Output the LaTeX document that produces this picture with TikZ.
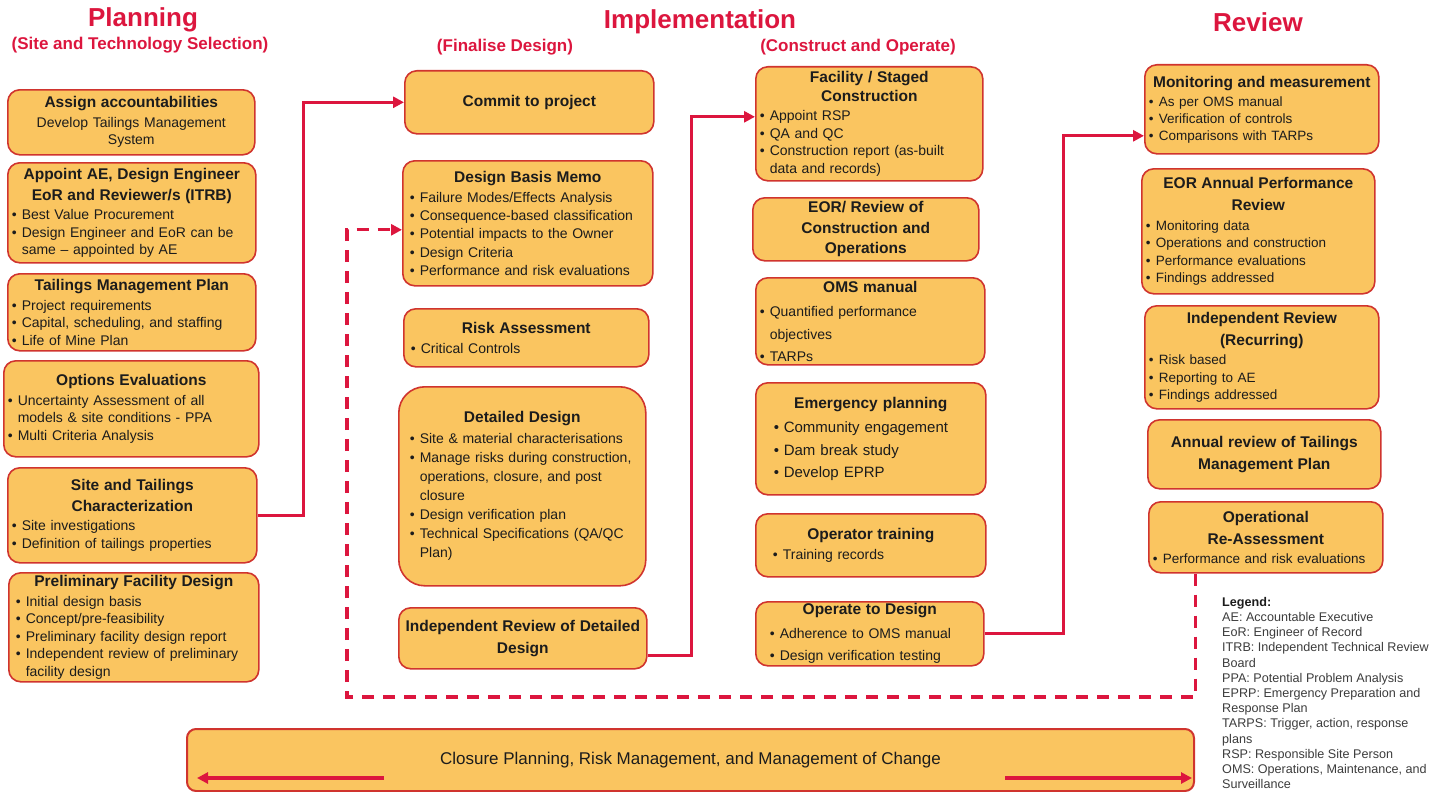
\documentclass[tikz,border=0pt]{standalone}
\usepackage{fontspec}
\setmainfont{Liberation Sans}
\usetikzlibrary{arrows.meta}

\definecolor{boxfill}{RGB}{250,197,96}
\definecolor{boxline}{RGB}{208,52,46}
\definecolor{accent}{RGB}{220,22,62}
\definecolor{ink}{RGB}{28,28,28}
\definecolor{legendink}{RGB}{60,60,60}

% bullet item; \bind shifts the bullet right
\newlength\bind
\newcommand\itm[1]{\par\noindent\hspace*{\bind}\makebox[10pt][l]{\textbullet}#1}
% continuation line of a bullet, aligned under its text
\newcommand\nl{\newline\hspace*{\dimexpr\bind+10pt\relax}}
% bold centred heading, optional baseline skip
\newcommand\hd[2][21pt]{{\centering\fontsize{15.5}{#1}\selectfont\bfseries #2\par}\vskip2pt}

\tikzset{
  box/.style={draw=boxline, fill=boxfill, line width=1.6pt, rounded corners=12pt,
    anchor=north west, inner xsep=4pt, inner ysep=0pt, align=left, text=ink,
    font=\fontsize{14}{17.5}\selectfont},
  phasetitle/.style={text=accent, font=\fontsize{26}{30}\selectfont\bfseries},
  phasesub/.style={text=accent, font=\fontsize{17}{20}\selectfont\bfseries},
  conn/.style={draw=accent, line width=3.3pt, -{Triangle[length=11pt,width=11pt]}},
  dconn/.style={conn, dash pattern=on 12pt off 9pt},
}

\begin{document}
\begin{tikzpicture}[x=1pt, y=-1pt]
\useasboundingbox (0,0) rectangle (1437,792);

% phase titles
\node[phasetitle] (tplan) at (143,20) {Planning};
\node[phasesub] (tplansub) at (140,45) {(Site and Technology Selection)};
\node[phasetitle] (timpl) at (700,22) {Implementation};
\node[phasesub] (tfin) at (505,47) {(Finalise Design)};
\node[phasesub] (tcon) at (858,47) {(Construct and Operate)};
\node[phasetitle] (trev) at (1258,22) {Review};

% planning column
\node[box, minimum width=247pt, minimum height=65pt, text width=239pt] (assign) at (7,89)
  {\hd{Assign accountabilities}{\centering Develop Tailings Management\\System\par}};
\node[box, minimum width=248pt, minimum height=100pt, text width=240pt] (appoint) at (7,162)
  {\hd{Appoint AE, Design Engineer\\EoR and Reviewer/s (ITRB)}
   \itm{Best Value Procurement}
   \itm{Design Engineer and EoR can be\nl same – appointed by AE}};
\node[box, minimum width=248pt, minimum height=77pt, text width=240pt] (tmp) at (7,273)
  {\hd{Tailings Management Plan}
   \itm{Project requirements}
   \itm{Capital, scheduling, and staffing}
   \itm{Life of Mine Plan}};
\node[box, minimum width=255pt, minimum height=96pt, text width=247pt] (options) at (3,360)
  {\hd{Options Evaluations}
   \itm{Uncertainty Assessment of all\nl models \& site conditions - PPA}
   \itm{Multi Criteria Analysis}};
\node[box, minimum width=249pt, minimum height=95pt, text width=241pt] (site) at (7,467)
  {\hd{Site and Tailings\\Characterization}
   \itm{Site investigations}
   \itm{Definition of tailings properties}};
\node[box, minimum width=250pt, minimum height=109pt, text width=242pt] (prelim) at (8,572)
  {\setlength\bind{3pt}\hd{Preliminary Facility Design}
   \itm{Initial design basis}
   \itm{Concept/pre-feasibility}
   \itm{Preliminary facility design report}
   \itm{Independent review of preliminary\nl facility design}};

% finalise design column
\node[box, minimum width=249pt, minimum height=63pt, text width=241pt] (commit) at (404,70)
  {\hd{Commit to project}};
\node[box, minimum width=250pt, minimum height=125pt, text width=242pt,
      font=\fontsize{14}{18.3}\selectfont] (dbm) at (402,160)
  {\setlength\bind{3pt}\hd{Design Basis Memo}
   \itm{Failure Modes/Effects Analysis}
   \itm{Consequence-based classification}
   \itm{Potential impacts to the Owner}
   \itm{Design Criteria}
   \itm{Performance and risk evaluations}};
\node[box, minimum width=245pt, minimum height=58pt, text width=237pt] (risk) at (403,308)
  {\setlength\bind{3pt}\hd{Risk Assessment}
   \itm{Critical Controls}};
\node[box, minimum width=247pt, minimum height=199pt, text width=239pt, rounded corners=26pt,
      font=\fontsize{14}{19}\selectfont] (detailed) at (398,386)
  {\setlength\bind{7pt}\hd{Detailed Design}
   \itm{Site \& material characterisations}
   \itm{Manage risks during construction,\nl operations, closure, and post\nl closure}
   \itm{Design verification plan}
   \itm{Technical Specifications (QA/QC\nl Plan)}};
\node[box, minimum width=248pt, minimum height=61pt, text width=240pt] (irdd) at (398,607)
  {\hd[22pt]{Independent Review of Detailed\\Design}};

% construct and operate column
\node[box, minimum width=227pt, minimum height=114pt, text width=219pt] (facility) at (755,66)
  {\hd[19pt]{Facility / Staged\\Construction}
   \itm{Appoint RSP}
   \itm{QA and QC}
   \itm{Construction report (as-built\nl data and records)}};
\node[box, minimum width=226pt, minimum height=63pt, text width=218pt] (eor) at (752,197)
  {\hd[20.5pt]{EOR/ Review of\\Construction and\\Operations}};
\node[box, minimum width=229pt, minimum height=87pt, text width=221pt,
      font=\fontsize{14}{22.5}\selectfont] (oms) at (755,277)
  {\hd{OMS manual}
   \itm{Quantified performance\nl objectives}
   \itm{TARPs}};
\node[box, minimum width=230pt, minimum height=112pt, text width=222pt,
      font=\fontsize{15}{22.5}\selectfont] (emerg) at (755,382)
  {\setlength\bind{14pt}\hd{Emergency planning}
   \itm{Community engagement}
   \itm{Dam break study}
   \itm{Develop EPRP}};
\node[box, minimum width=230pt, minimum height=63pt, text width=222pt] (optrain) at (755,513)
  {\setlength\bind{13pt}\hd{Operator training}
   \itm{Training records}};
\node[box, minimum width=228pt, minimum height=64pt, text width=220pt,
      font=\fontsize{14}{22}\selectfont] (operate) at (755,601)
  {\setlength\bind{10pt}\hd{Operate to Design}
   \itm{Adherence to OMS manual}
   \itm{Design verification testing}};

% review column
\node[box, minimum width=234pt, minimum height=89pt, text width=226pt,
      font=\fontsize{13.5}{17}\selectfont] (monitor) at (1144,64)
  {\hd{Monitoring and measurement}
   \itm{As per OMS manual}
   \itm{Verification of controls}
   \itm{Comparisons with TARPs}};
\node[box, minimum width=233pt, minimum height=125pt, text width=225pt,
      font=\fontsize{13.5}{17.5}\selectfont] (eorannual) at (1141,168)
  {\hd[22pt]{EOR Annual Performance\\Review}
   \itm{Monitoring data}
   \itm{Operations and construction}
   \itm{Performance evaluations}
   \itm{Findings addressed}};
\node[box, minimum width=234pt, minimum height=103pt, text width=226pt,
      font=\fontsize{13.5}{17.5}\selectfont] (indrev) at (1144,305)
  {\hd[22pt]{Independent Review\\(Recurring)}
   \itm{Risk based}
   \itm{Reporting to AE}
   \itm{Findings addressed}};
\node[box, minimum width=233pt, minimum height=69pt, text width=225pt] (annual) at (1147,419)
  {\hd[22pt]{Annual review of Tailings\\Management Plan}};
\node[box, minimum width=234pt, minimum height=71pt, text width=226pt,
      font=\fontsize{13.5}{17.5}\selectfont] (opreass) at (1148,501)
  {\hd[22pt]{Operational\\Re-Assessment}
   \itm{Performance and risk evaluations}};

% closure bar
\node[box, minimum width=1007pt, minimum height=62pt, rounded corners=9pt, line width=2pt,
      align=center, font=\fontsize{17}{20}\selectfont] (closure) at (186,728)
  {Closure Planning, Risk Management, and Management of Change};
\coordinate (cl-from) at (384,778);
\coordinate (cl-to) at (197,778);
\coordinate (cr-from) at (1005,778);
\coordinate (cr-to) at (1192,778);
\draw[conn] (cl-from) -- (cl-to);
\draw[conn] (cr-from) -- (cr-to);

% legend
\node[anchor=north west, align=left, inner sep=0pt, text=legendink,
      font=\fontsize{12.6}{15.2}\selectfont] (legend) at (1222,597)
  {{\bfseries\color{ink}Legend:}\\
   AE: Accountable Executive\\
   EoR: Engineer of Record\\
   ITRB: Independent Technical Review\\
   Board\\
   PPA: Potential Problem Analysis\\
   EPRP: Emergency Preparation and\\
   Response Plan\\
   TARPS: Trigger, action, response\\
   plans\\
   RSP: Responsible Site Person\\
   OMS: Operations, Maintenance, and\\
   Surveillance};

% phase-to-phase connectors
\draw[conn] (site.east) -- ++(46,0) |- (commit.west);
\draw[conn] ([yshift=-17.5pt]irdd.east) -- ++(44,0) |- ([yshift=7pt]facility.west);
\draw[conn] (operate.east) -- ++(79,0) |- ([yshift=-26.5pt]monitor.west);

% feedback loop from review back to design
\coordinate (loop-corner) at (347,697);
\draw[dconn] ([xshift=-70pt]opreass.south) |- (loop-corner) |- ([yshift=-6.5pt]dbm.west);
\end{tikzpicture}
\end{document}
